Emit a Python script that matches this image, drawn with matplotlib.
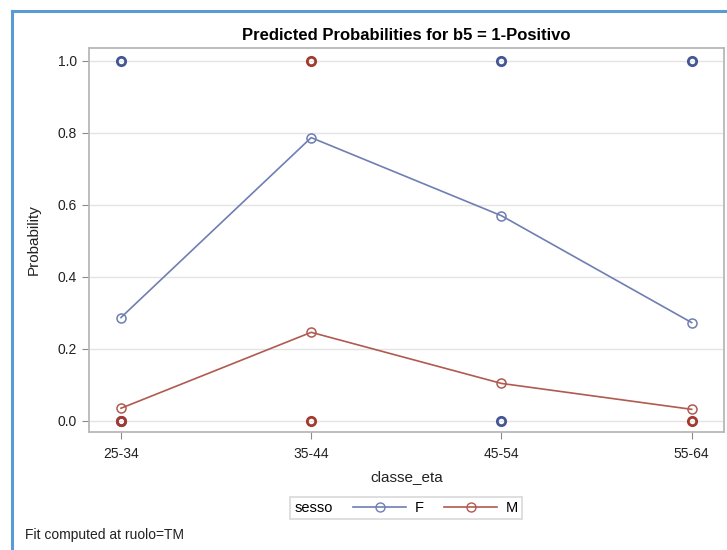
import matplotlib.pyplot as plt
from matplotlib.lines import Line2D

plt.rcParams['font.family'] = ['Liberation Sans', 'DejaVu Sans']

# Dati
classi = ['25-34', '35-44', '45-54', '55-64']
pred_f = [0.287, 0.787, 0.570, 0.273]
pred_m = [0.035, 0.246, 0.104, 0.032]

# Osservazioni (0/1)
oss_f_classe = ['25-34', '25-34', '45-54', '45-54', '55-64']
oss_f_valore = [1, 0, 1, 0, 1]
oss_m_classe = ['25-34', '35-44', '35-44', '55-64']
oss_m_valore = [0, 1, 0, 0]

blu = '#6F7EB3'
blu_scuro = '#445694'
rosso = '#B05A50'
rosso_scuro = '#A23A2E'

fig = plt.figure(figsize=(7.27, 5.5), dpi=100)
ax = fig.add_axes([89 / 727, 1 - 432 / 550, (724 - 89) / 727, (432 - 48) / 550])

pos = {c: i for i, c in enumerate(classi)}

ax.plot([pos[c] for c in oss_f_classe], oss_f_valore, 'o', ms=6, mfc='none',
        mec=blu_scuro, mew=2, zorder=3)
ax.plot([pos[c] for c in oss_m_classe], oss_m_valore, 'o', ms=6, mfc='none',
        mec=rosso_scuro, mew=2, zorder=4)

ax.plot(range(len(classi)), pred_f, '-o', color=blu, lw=1.2, ms=6.5,
        mfc='none', mec=blu, mew=1.1, zorder=5)
ax.plot(range(len(classi)), pred_m, '-o', color=rosso, lw=1.2, ms=6.5,
        mfc='none', mec=rosso, mew=1.1, zorder=5)

ax.set_xlim(-0.168, 3.17)
ax.set_ylim(-0.031, 1.036)
ax.set_xticks(range(len(classi)))
ax.set_xticklabels(classi)
ax.set_yticks([0, 0.2, 0.4, 0.6, 0.8, 1.0])
ax.set_yticklabels(['0.0', '0.2', '0.4', '0.6', '0.8', '1.0'])
ax.grid(axis='y', color='#E4E4E4', lw=1)
ax.set_axisbelow(True)
for s in ax.spines.values():
    s.set_color('#B8B8B8')
    s.set_linewidth(1.3)
ax.tick_params(colors='#8A8A8A', labelcolor='#222222', labelsize=10, length=5)
ax.tick_params(axis='x', pad=6)

ax.set_xlabel('classe_eta', fontsize=11, color='#222222', labelpad=6)
ax.set_ylabel('Probability', fontsize=11, color='#222222', labelpad=12)
ax.set_title('Predicted Probabilities for b5 = 1-Positivo', fontsize=12,
             fontweight='bold', pad=6)

# Legenda con titolo a sinistra
h_f = Line2D([], [], color=blu, marker='o', mfc='none', mec=blu, lw=1.2, ms=6.5)
h_m = Line2D([], [], color=rosso, marker='o', mfc='none', mec=rosso, lw=1.2, ms=6.5)
leg = fig.legend([h_f, h_m], ['F', 'M'], ncol=2, title='sesso',
                 loc='center', bbox_to_anchor=(406 / 727, 1 - 508 / 550),
                 frameon=True, fancybox=False, fontsize=10.5, title_fontsize=10.5,
                 handlelength=3.6, handletextpad=0.6, columnspacing=0.8,
                 borderpad=0.3)
box = leg.get_children()[0]
titolo = box.get_children()[0]
voci = box.get_children()[1]
box._children = [voci]
voci._children = [titolo] + voci.get_children()
voci.sep = 15
leg.get_frame().set_edgecolor('#D0D0D0')
leg.get_frame().set_linewidth(1.2)

fig.text(25 / 727, 1 - 535 / 550, 'Fit computed at ruolo=TM', fontsize=10,
         va='center', color='#222222')

# Bordo
fig.add_artist(Line2D([12 / 727, 12 / 727], [0, 1 - 11 / 550], color='#5B9BD5', lw=2.2))
fig.add_artist(Line2D([12 / 727, 1], [1 - 11 / 550, 1 - 11 / 550], color='#5B9BD5', lw=2.2))

fig.savefig('out.png', dpi=100)
